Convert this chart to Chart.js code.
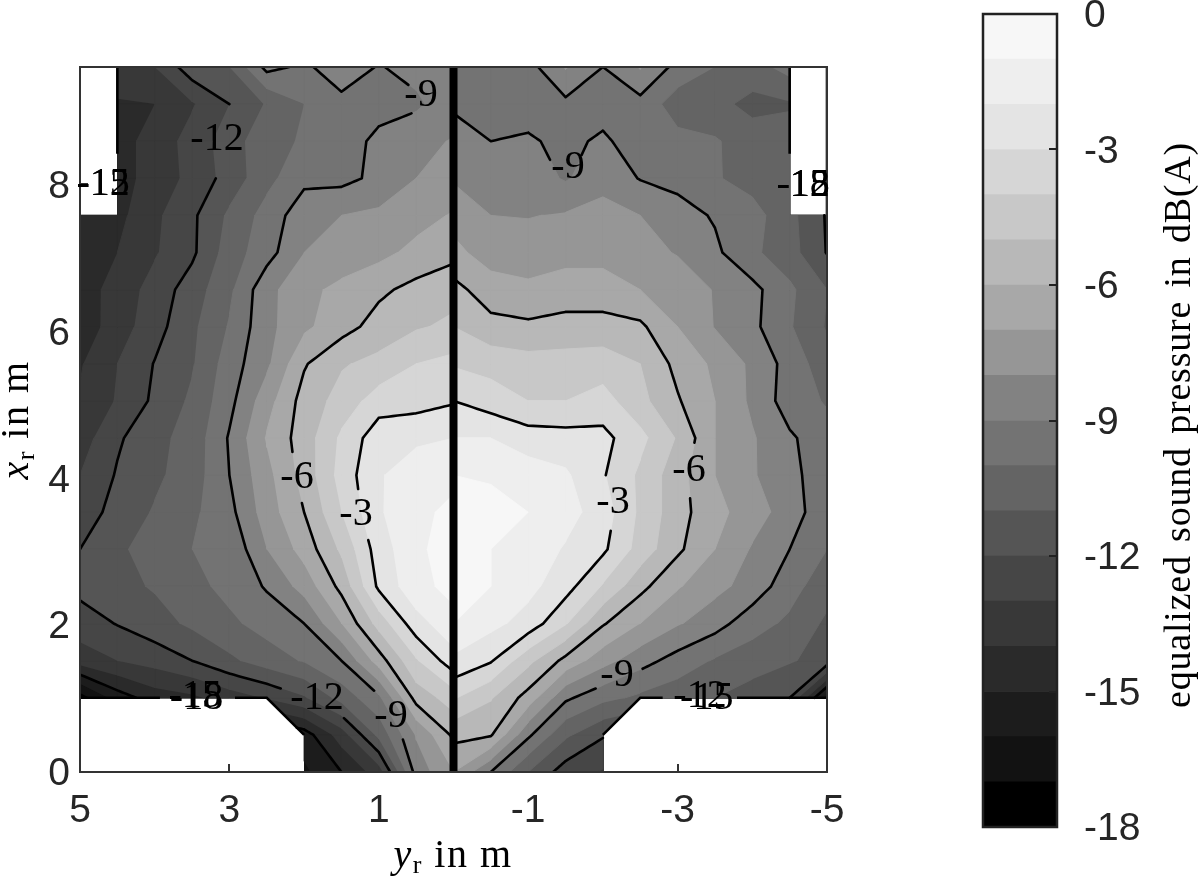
<!DOCTYPE html>
<html>
<head>
<meta charset="utf-8">
<title>equalized sound pressure</title>
<script src="https://cdn.jsdelivr.net/npm/chart.js@4/dist/chart.umd.js"></script>
<style>
  html, body { margin: 0; padding: 0; background: #fff; }
  #wrap { position: relative; width: 1200px; height: 876px; overflow: hidden; }
  #mapChart { position: absolute; left: 0; top: 0; }
  #barChart { position: absolute; left: 960px; top: 0; }
</style>
</head>
<body>
<div id="wrap">
  <canvas id="mapChart" width="1200" height="876"></canvas>
  <canvas id="barChart" width="240" height="876"></canvas>
</div>
<script>
// grid of the measurement, in m
const xRows = [0,0.505,1.011,1.516,2.021,2.526,3.032,3.537,4.042,4.547,5.053,5.558,6.063,6.568,7.074,7.579,8.084,8.589,9.095,9.6];
const leftCols = [5,4.5,4,3.5,3,2.5,2,1.5,1,0.5,0];
const rightCols = [0,-0.5,-1,-1.5,-2,-2.5,-3,-3.5,-4,-4.5,-5];

// sound pressure in dB(A), one row per xRows entry, null = not measured
const leftZ = [
  [null,null,null,null,null,null,-16.2,-15,-13.5,-8.6,-7],
  [null,null,null,null,null,null,-15.5,-13.5,-10.7,-7.9,-5.8],
  [-17.5,-15.5,-14.5,-14.2,-13.5,-12.9,-12.1,-10.6,-9.2,-5.6,-4.5],
  [-13.5,-13,-12.6,-12,-11.2,-10.5,-9.9,-9,-6.5,-4.1,-2.4],
  [-12.5,-11.95,-11.4,-10.8,-10.2,-9.6,-9,-7,-4.6,-2.4,-1.3],
  [-11.7,-11.3,-10.9,-10.3,-9.7,-8.9,-7.6,-5.7,-2.8,-1.3,-0.7],
  [-12,-11.2,-10.5,-10,-9.8,-8,-6.6,-4.8,-2.5,-1.2,-0.5],
  [-12.6,-11.6,-10.9,-10.2,-9.3,-7.5,-6,-4,-2.1,-1.3,-0.7],
  [-13,-11.9,-11.2,-10.5,-9,-7.3,-5.6,-3.6,-2.1,-1.4,-1.3],
  [-13.5,-12.15,-11.3,-10.6,-8.9,-6.9,-5.5,-3.8,-2.4,-2.2,-2],
  [-13.9,-12.9,-11.8,-10.8,-9.3,-7.4,-5.6,-4.6,-3.5,-3.4,-3.1],
  [-14.1,-13,-11.95,-11.1,-9.5,-8.2,-6.1,-5.1,-4.7,-4,-3.7],
  [-14.6,-13.5,-12.4,-11.2,-9.9,-8.3,-7.2,-6.4,-5.6,-5.1,-4.8],
  [-14.5,-13.6,-12.6,-11.5,-10.2,-8.3,-7.3,-6.7,-6.2,-5.7,-5.3],
  [-14.5,-14,-13.1,-12.2,-10.5,-9.4,-8,-7.7,-7.3,-6.7,-6.3],
  [-14.6,-14.3,-13.2,-12.2,-10.8,-9.6,-8.4,-8,-7.8,-7.4,-6.9],
  [null,-14.4,-13.6,-12.7,-11.6,-10.3,-9.25,-9.3,-8.75,-8,-7.6],
  [null,-14.4,-13.6,-12.6,-11.5,-10.3,-9.9,-9.4,-8.8,-8.2,-7.95],
  [null,-14.1,-14,-13.1,-12,-10.9,-10,-9.3,-9.3,-9.2,-8.3],
  [null,-13.4,-13,-11.4,-11,-8.7,-9.2,-8.4,-9.07,-8.64,-8.3]
];
const rightZ = [
  [-7,-9,-11,-12.5,-13.1,null,null,null,null,null,null],
  [-5.7,-5.9,-8.8,-10.8,-11.9,null,null,null,null,null,null],
  [-3.9,-4.9,-6.4,-8.8,-9.7,-10.2,-10.6,-11,-11.5,-12,-16.5],
  [-2.2,-2.9,-4.7,-6.3,-7.6,-8.6,-9.4,-10.1,-10.5,-10.9,-11.4],
  [-1,-1.7,-2.4,-3.9,-5.9,-7,-7.9,-8.6,-9.6,-10.2,-11.2],
  [-0.7,-1,-1.7,-2.6,-4.1,-5.7,-6.9,-7.7,-8.4,-9.6,-10.6],
  [-0.5,-1,-1.4,-2.1,-2.8,-4.4,-5.8,-7,-8.1,-9,-10],
  [-0.5,-0.7,-1,-1.6,-2.5,-4.2,-5.6,-6.7,-7.5,-8.5,-9.7],
  [-1,-1.1,-1.5,-1.85,-2.9,-4.2,-5.6,-7,-7.9,-8.7,-9.6],
  [-2,-2,-2.5,-2.6,-2.7,-3.7,-5.1,-7,-7.9,-8.85,-9.6],
  [-3,-3.5,-4,-4,-3.6,-4.7,-5.9,-7,-8.2,-9.5,-10.1],
  [-4.1,-4.35,-4.6,-4.6,-4.5,-5,-6.3,-7.2,-8.2,-9.4,-10.6],
  [-5,-5.7,-5.8,-5.6,-5.6,-5.8,-7,-8.05,-8.75,-9.9,-11.1],
  [-5.7,-6.5,-6.8,-6.6,-6.6,-7,-7.1,-8.1,-8.7,-9.8,-11],
  [-6.7,-7.5,-7.5,-7.3,-7.3,-7.5,-8.1,-8.8,-9.8,-10.6,-12.05],
  [-7.4,-8,-8.05,-7.9,-7.6,-8,-8.6,-9.1,-9.6,-10.7,-12.1],
  [-8.1,-8.5,-8.5,-9.1,-8.4,-9.05,-9.3,-9.9,-10.4,-10.8,null],
  [-8.4,-9,-8.85,-9.3,-8.8,-9.6,-9.7,-9.9,-10.5,-10.6,null],
  [-9.2,-9.45,-9.5,-9.25,-9.5,-9.34,-10.5,-10.7,-11.3,-11.1,null],
  [-9.7,-9.5,-9.4,-7.9,-9,-7.9,-9.34,-10,-10.4,-9.6,null]
];

// colour bands, from -18 upwards, each 1 dB wide
const bandLevels = [-18,-17,-16,-15,-14,-13,-12,-11,-10,-9,-8,-7,-6,-5,-4,-3,-2,-1];
const bandGrays = [0,18,28,42,56,70,85,100,115,130,150,168,184,200,214,228,238,247];
const contourLevels = [-3,-6,-9,-12,-15,-18];

// contour labels: level, position and how much of the line they cut away (m)
const labelLevels = [-9,-12,-6,-3,-9,-12,-15,-18,-12,-15, -9,-6,-3,-9,-12,-15,-12,-15,-18];
const labelY = [0.435,3.166,2.095,1.305,0.837,1.827,3.46,3.44,4.69,4.69, -1.533,-3.153,-2.135,-2.189,-3.3,-3.39,-4.68,-4.68,-4.68];
const labelX = [9.21,8.61,4.01,3.5,0.76,1.007,1.034,1,8,8, 8.23,4.11,3.67,1.32,1.034,1,7.99,7.99,7.99];
const labelGaps = [0.25,0.5,0.38,0.38,0.38,0.47,0,0,0,0, 0.28,0.4,0.38,0.36,0,0,0,0,0];

// contour lines that run along the edge of the unmeasured areas
const edgeY = [5,3.93,null,2.925,2.5,2,null,-2,-2.5,-2.8,null,-3.795,-5,null,4.5,4.5,null,-4.5,-4.5,null,-5,-5];
const edgeX = [1.011,1.011,null,1.011,1.011,0.505,null,0.505,1.011,1.011,null,1.011,1.011,null,9.6,8.42,null,9.6,8.42,null,9.6,7.05];

const yrTicks = [5,3,1,-1,-3,-5];
const xrTicks = [0,2,4,6,8];
const barTicks = [0,-3,-6,-9,-12,-15,-18];

// lineHeight goes with tickLabelLines: the empty first line moves a label about 2.5px down
const TICK_FONT = { family: "'Liberation Sans', Arial, sans-serif", size: 39 };
const SIDE_TICK_FONT = { family: "'Liberation Sans', Arial, sans-serif", size: 39, lineHeight: 0.13 };
const TEXT_COLOR = "#262626";
const SERIF = "'Liberation Serif', serif";

function gray(v){ return `rgb(${v},${v},${v})`; }
function tickLabelLines(v){ return ["", String(v)]; }
// the plot area is fixed here, labels may stick out of it
function noScalePadding(s){
  s.paddingTop = 0;
  s.paddingBottom = 0;
  s.paddingLeft = 0;
  s.paddingRight = 0;
}

// corners of one grid cell that have a value, walking round the cell
function cellNodes(cols, z, i, j){
  const corners = [[i,j],[i,j+1],[i+1,j+1],[i+1,j]];
  return corners
    .filter(c => z[c[0]][c[1]] !== null)
    .map(c => ({ x: cols[c[1]], y: xRows[c[0]], z: z[c[0]][c[1]] }));
}

function crossing(a, b, level){
  const t = (level - a.z) / (b.z - a.z);
  return { x: a.x + (b.x - a.x) * t, y: a.y + (b.y - a.y) * t };
}

// part of the cell where z >= level
function clipCell(nodes, level){
  const out = [];
  nodes.forEach((a, k) => {
    const b = nodes[(k + 1) % nodes.length];
    if (a.z >= level) out.push({ x: a.x, y: a.y });
    if ((a.z >= level) !== (b.z >= level)) out.push(crossing(a, b, level));
  });
  return out;
}

// only the notch next to the bottom blocks is cut as a triangle, the top blocks end flat
function eachCell(cols, z, fn){
  for (let i = 0; i < xRows.length - 1; i++){
    for (let j = 0; j < cols.length - 1; j++){
      const nodes = cellNodes(cols, z, i, j);
      if (nodes.length === 4 || (nodes.length === 3 && i === 1)) fn(nodes);
    }
  }
}

function fillPoints(level){
  const pts = [];
  [[leftCols, leftZ], [rightCols, rightZ]].forEach(([cols, z]) => {
    eachCell(cols, z, nodes => {
      const poly = clipCell(nodes, level);
      if (poly.length < 3) return;
      poly.forEach(p => pts.push(p));
      pts.push({ x: NaN, y: NaN });
    });
  });
  return pts;
}

function inLabelGap(p, level){
  return labelLevels.some((l, k) => l === level && labelGaps[k] > 0 &&
    Math.hypot(p.x - labelY[k], p.y - labelX[k]) < labelGaps[k]);
}

function pushSegment(pts, a, b, level){
  const steps = 8;
  let open = false;
  for (let s = 0; s < steps; s++){
    const p0 = { x: a.x + (b.x - a.x) * s / steps, y: a.y + (b.y - a.y) * s / steps };
    const p1 = { x: a.x + (b.x - a.x) * (s + 1) / steps, y: a.y + (b.y - a.y) * (s + 1) / steps };
    const mid = { x: (p0.x + p1.x) / 2, y: (p0.y + p1.y) / 2 };
    if (inLabelGap(mid, level)){
      if (open) pts.push({ x: NaN, y: NaN });
      open = false;
      continue;
    }
    if (!open) pts.push(p0);
    pts.push(p1);
    open = true;
  }
  if (open) pts.push({ x: NaN, y: NaN });
}

function linePoints(){
  const pts = [];
  [[leftCols, leftZ], [rightCols, rightZ]].forEach(([cols, z]) => {
    eachCell(cols, z, nodes => {
      contourLevels.forEach(level => {
        const hits = [];
        nodes.forEach((a, k) => {
          const b = nodes[(k + 1) % nodes.length];
          if ((a.z >= level) !== (b.z >= level)) hits.push(crossing(a, b, level));
        });
        for (let h = 0; h + 1 < hits.length; h += 2) pushSegment(pts, hits[h], hits[h + 1], level);
      });
    });
  });
  return pts;
}

function edgePoints(){
  return edgeY.map((v, k) => v === null ? { x: NaN, y: NaN } : { x: v, y: edgeX[k] });
}

// the plain fast path of the line element merges points by pixel column, a dash keeps polygons exact
const SOLID_DASH = [10000, 0];
const datasets = [];
bandLevels.forEach((level, i) => {
  datasets.push({
    data: fillPoints(level),
    fill: "shape",
    backgroundColor: gray(bandGrays[i]),
    borderColor: gray(bandGrays[i]),
    borderWidth: 1,
    borderDash: SOLID_DASH
  });
});
datasets.push({ data: linePoints(), borderColor: "#000", borderWidth: 2.6, borderCapStyle: "round", borderDash: SOLID_DASH });
datasets.push({ data: edgePoints(), borderColor: "#000", borderWidth: 2.6, borderDash: SOLID_DASH });
datasets.push({ data: [{ x: 0, y: 0 }, { x: 0, y: 9.6 }], borderColor: "#000", borderWidth: 8 });
datasets.forEach((d, i) => {
  d.order = -i;
  d.showLine = true;
  d.pointRadius = 0;
  d.spanGaps = false;
});

function drawMixed(ctx, x, y, rotated, parts, spacing, wordGap){
  ctx.save();
  ctx.translate(x, y);
  if (rotated) ctx.rotate(-Math.PI / 2);
  ctx.textBaseline = "alphabetic";
  ctx.textAlign = "left";
  ctx.fillStyle = "#000";
  ctx.letterSpacing = spacing;
  ctx.wordSpacing = wordGap;
  let total = 0;
  parts.forEach(p => { ctx.font = p.font; total += ctx.measureText(p.text).width; });
  let pos = -total / 2;
  parts.forEach(p => {
    ctx.font = p.font;
    ctx.fillText(p.text, pos, p.drop || 0);
    pos += ctx.measureText(p.text).width;
  });
  ctx.restore();
}

const mapDecor = {
  id: "mapDecor",
  afterDraw(chart){
    const { ctx, chartArea: a, scales } = chart;
    ctx.save();
    ctx.strokeStyle = "#333";
    ctx.lineWidth = 2;
    ctx.strokeRect(a.left, a.top, a.right - a.left, a.bottom - a.top);
    ctx.font = `40px ${SERIF}`;
    ctx.fillStyle = "#000";
    ctx.textAlign = "center";
    ctx.textBaseline = "middle";
    labelLevels.forEach((l, k) => {
      ctx.fillText(String(l), scales.x.getPixelForValue(labelY[k]), scales.y.getPixelForValue(labelX[k]));
    });
    ctx.restore();
    drawMixed(ctx, 453, 867, false, [
      { text: "y", font: `italic 40px ${SERIF}` },
      { text: "r", font: `26px ${SERIF}`, drop: 6 },
      { text: " in m", font: `40px ${SERIF}` }
    ], "1.5px", "9px");
    drawMixed(ctx, 28, 420, true, [
      { text: "x", font: `italic 40px ${SERIF}` },
      { text: "r", font: `26px ${SERIF}`, drop: 6 },
      { text: " in m", font: `40px ${SERIF}` }
    ], "1.5px", "9px");
  }
};

new Chart(document.getElementById("mapChart"), {
  type: "scatter",
  data: { datasets },
  plugins: [mapDecor],
  options: {
    responsive: false,
    animation: false,
    events: [],
    layout: { autoPadding: false, padding: { left: 0, top: 67, right: 373, bottom: 0 } },
    plugins: { legend: { display: false }, tooltip: { enabled: false } },
    scales: {
      x: {
        type: "linear",
        min: -5,
        max: 5,
        reverse: true,
        afterBuildTicks: s => { s.ticks = yrTicks.map(v => ({ value: v })); },
        afterFit: s => { s.height = 104; noScalePadding(s); },
        ticks: { font: TICK_FONT, color: TEXT_COLOR, padding: 24, maxRotation: 0, autoSkip: false, callback: v => String(v) },
        grid: { drawOnChartArea: false, tickLength: -8, color: "#333", lineWidth: 2 },
        border: { display: false }
      },
      y: {
        type: "linear",
        min: 0,
        max: 9.6,
        afterBuildTicks: s => { s.ticks = xrTicks.map(v => ({ value: v })); },
        afterFit: s => { s.width = 80; noScalePadding(s); },
        ticks: { font: SIDE_TICK_FONT, color: TEXT_COLOR, padding: 18, autoSkip: false, callback: tickLabelLines },
        grid: { drawOnChartArea: false, tickLength: -8, color: "#333", lineWidth: 2 },
        border: { display: false }
      }
    }
  }
});

const barDecor = {
  id: "barDecor",
  afterDraw(chart){
    const { ctx, chartArea: a } = chart;
    ctx.save();
    ctx.strokeStyle = "#222";
    ctx.lineWidth = 2.5;
    ctx.strokeRect(a.left, a.top, a.right - a.left, a.bottom - a.top);
    ctx.restore();
    drawMixed(ctx, 230, 425, true, [
      { text: "equalized sound pressure in dB(A)", font: `38px ${SERIF}` }
    ], "0.8px", "3px");
  }
};

new Chart(document.getElementById("barChart"), {
  type: "bar",
  data: {
    labels: [""],
    datasets: bandLevels.map((level, i) => ({
      data: [[level, level + 1]],
      backgroundColor: gray(bandGrays[i]),
      borderWidth: 0,
      barPercentage: 1,
      categoryPercentage: 1,
      grouped: false
    }))
  },
  plugins: [barDecor],
  options: {
    responsive: false,
    animation: false,
    events: [],
    layout: { autoPadding: false, padding: { left: 23, top: 14, right: 0, bottom: 49 } },
    plugins: { legend: { display: false }, tooltip: { enabled: false } },
    scales: {
      x: { display: false },
      y: {
        position: "right",
        min: -18,
        max: 0,
        afterBuildTicks: s => { s.ticks = barTicks.map(v => ({ value: v })); },
        afterFit: s => { s.width = 143; noScalePadding(s); },
        ticks: { font: SIDE_TICK_FONT, color: TEXT_COLOR, padding: 35, autoSkip: false, callback: tickLabelLines },
        grid: { drawOnChartArea: false, tickLength: -8, color: "#222", lineWidth: 2, z: 1 },
        border: { display: false }
      }
    }
  }
});
</script>
</body>
</html>
